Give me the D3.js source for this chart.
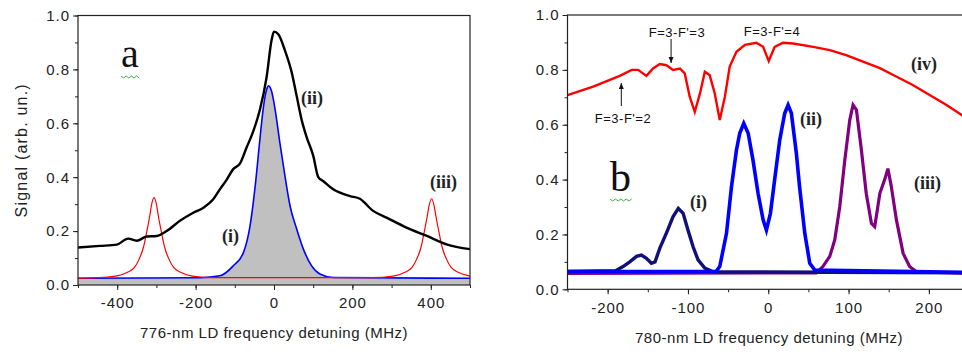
<!DOCTYPE html>
<html><head><meta charset="utf-8">
<script src="https://cdn.jsdelivr.net/npm/d3@7"></script>
<style>
html,body{margin:0;padding:0;background:#fff;}
svg{display:block;}
</style></head>
<body>
<script>
// ---------- Panel a data (776-nm LD detuning, MHz) ----------
const aTicksX = [-400, -200, 0, 200, 400];
const aTicksY = [0.0, 0.2, 0.4, 0.6, 0.8, 1.0];
const aBlackX = [-500,-444,-401,-372,-350,-325,-299,-274,-240,-206,-180,-155,-138,-121,-104,-87,-70,-53,-36,-19,-6,0,11,28,45,58,71,83,100,113,126,151,194,219,253,287,338,390,440,500];
const aBlackY = [0.139,0.145,0.15,0.172,0.164,0.18,0.182,0.20,0.238,0.268,0.287,0.318,0.355,0.39,0.43,0.45,0.51,0.57,0.65,0.77,0.91,0.94,0.93,0.87,0.79,0.70,0.61,0.55,0.48,0.40,0.385,0.355,0.33,0.32,0.275,0.25,0.213,0.182,0.151,0.133];
const aBlueX = [-500,-189,-138,-104,-78,-61,-48,-36,-27,-19,-14,-6,3,15,28,41,58,75,96,117,151,500];
const aBlueY = [0.025,0.027,0.034,0.071,0.12,0.22,0.367,0.54,0.66,0.724,0.739,0.718,0.65,0.527,0.404,0.293,0.207,0.133,0.071,0.041,0.028,0.025];
const aRedX = [-500,-456,-408,-374,-356,-344,-333,-325,-317,-313,-306,-299,-295,-287,-279,-268,-256,-238,-204,-156,252,300,334,352,364,375,383,391,395,402,409,413,421,429,440,452,470,500];
const aRedY = [0.025,0.027,0.032,0.047,0.065,0.096,0.14,0.195,0.256,0.293,0.324,0.293,0.256,0.195,0.14,0.096,0.065,0.047,0.032,0.027,0.027,0.032,0.047,0.065,0.096,0.14,0.195,0.256,0.29,0.32,0.29,0.256,0.195,0.14,0.096,0.065,0.047,0.033];

// ---------- Panel b data (780-nm LD detuning, MHz) ----------
const bTicksX = [-200, -100, 0, 100, 200];
const bTicksY = [0.0, 0.2, 0.4, 0.6, 0.8, 1.0];
const bRedX = [-250,-218,-185,-170,-162,-151.7,-143.5,-135,-126.8,-118.5,-110,-104,-97.8,-91.5,-85,-79,-73,-66.6,-60.4,-54,-48,-39.6,-29,-14.7,-6.4,0.6,8,18.4,31,56,76.6,97,118,139,160,180,201,222,240.5,250];
const bRedY = [0.708,0.739,0.778,0.80,0.80,0.778,0.805,0.821,0.817,0.80,0.805,0.787,0.702,0.647,0.714,0.793,0.781,0.714,0.617,0.702,0.812,0.866,0.891,0.899,0.884,0.832,0.884,0.899,0.896,0.884,0.872,0.854,0.83,0.806,0.775,0.745,0.708,0.672,0.636,0.615];
const bNavyX = [-250,-190,-180.8,-172.5,-164,-158,-151.7,-145.5,-141,-135,-127,-118.5,-112,-106,-100,-93.6,-87.4,-79,-68.7,250];
const bNavyY = [0.065,0.068,0.083,0.10,0.12,0.125,0.113,0.095,0.10,0.15,0.204,0.265,0.295,0.277,0.216,0.155,0.107,0.077,0.064,0.06];
const bBlueX = [-250,-65,-60.4,-52,-45.8,-39.6,-35.5,-30.5,-25,-19,-12.7,-6.4,-2.3,2.7,8,14.3,20.5,24.7,28.8,35,39,45.5,51.7,58,250];
const bBlueY = [0.065,0.065,0.083,0.204,0.374,0.508,0.569,0.605,0.569,0.471,0.35,0.253,0.216,0.277,0.40,0.544,0.642,0.672,0.642,0.496,0.374,0.204,0.095,0.07,0.062];
const bPurpleX = [-250,60,68,76.6,82.8,89,95.3,101.5,105.6,109.8,116,122,128.5,132.6,139,145,149,153.3,159.6,168,176,184.6,250];
const bPurpleY = [0.058,0.06,0.083,0.12,0.18,0.30,0.47,0.617,0.672,0.654,0.508,0.35,0.24,0.228,0.35,0.40,0.44,0.374,0.253,0.131,0.083,0.064,0.058];

const W = 962, H = 354;
const sans = "'Liberation Sans', Arial, sans-serif";
const svg = d3.select("body").append("svg").attr("width", W).attr("height", H)
  .style("font-family", sans);

const fmtX = d => String(d).replace("\u2212", "-");
const fmtY = d3.format(".1f");
const zip = (xs, ys) => xs.map((x, i) => [x, ys[i]]);

function drawAxes(g, x, y, ticksX, ticksY, minorX, minorY, xTitle, yTitle, padX) {
  const [x0, x1] = x.range();
  const [y0, y1] = y.range();
  g.append("g").attr("transform", `translate(0,${y0})`)
    .call(d3.axisBottom(x).tickValues(minorX).tickSize(3).tickFormat(""))
    .call(s => s.select(".domain").remove());
  g.append("g").attr("transform", `translate(${x0},0)`)
    .call(d3.axisLeft(y).tickValues(minorY).tickSize(3).tickFormat(""))
    .call(s => s.select(".domain").remove());
  const ax = g.append("g").attr("transform", `translate(0,${y0})`)
    .call(d3.axisBottom(x).tickValues(ticksX).tickSize(5).tickPadding(padX).tickFormat(fmtX));
  ax.select(".domain").remove();
  ax.selectAll("text").attr("font-size", 15).attr("letter-spacing", "1px").attr("fill", "#222")
    .attr("font-family", sans);
  const ay = g.append("g").attr("transform", `translate(${x0},0)`)
    .call(d3.axisLeft(y).tickValues(ticksY).tickSize(5).tickPadding(3).tickFormat(fmtY));
  ay.select(".domain").remove();
  ay.selectAll("text").attr("font-size", 15).attr("letter-spacing", "1px").attr("fill", "#222")
    .attr("font-family", sans);
  g.selectAll(".tick line").attr("stroke", "#222");
  g.append("rect").attr("x", x0).attr("y", y1).attr("width", x1 - x0).attr("height", y0 - y1)
    .attr("fill", "none").attr("stroke", "#222").attr("stroke-width", 1.2);
  g.append("text").attr("x", xTitle.cx).attr("y", xTitle.y)
    .attr("text-anchor", "middle").attr("font-size", 15).attr("letter-spacing", "0.5px").attr("fill", "#222")
    .text(xTitle.text);
  if (yTitle) {
    g.append("text").attr("transform", `translate(${yTitle.x},${(y0 + y1) / 2}) rotate(-90)`)
      .attr("text-anchor", "middle").attr("font-size", 16).attr("letter-spacing", "1.2px").attr("fill", "#222")
      .text(yTitle.text);
  }
}

// ================= Panel a =================
const xa = d3.scaleLinear().domain([-500, 500]).range([78, 470]);
const ya = d3.scaleLinear().domain([0, 1]).range([285, 15.5]);
const ga = svg.append("g");
ga.append("clipPath").attr("id", "clipA").append("rect")
  .attr("x", 78).attr("y", 15.5).attr("width", 392).attr("height", 269.5);
const pa = ga.append("g").attr("clip-path", "url(#clipA)");
const lineA = d3.line().x(d => xa(d[0])).y(d => ya(d[1])).curve(d3.curveMonotoneX);
const areaA = d3.area().x(d => xa(d[0])).y0(ya(0)).y1(d => ya(d[1])).curve(d3.curveMonotoneX);
const blueA = zip(aBlueX, aBlueY);
pa.append("path").attr("d", areaA(blueA)).attr("fill", "#c0c0c0");
pa.append("path").attr("d", lineA(blueA)).attr("fill", "none").attr("stroke", "#0000ff").attr("stroke-width", 1.6);
pa.append("path").attr("d", lineA(zip(aRedX, aRedY))).attr("fill", "none").attr("stroke", "#ff0000").attr("stroke-width", 1.2);
pa.append("path").attr("d", lineA(zip(aBlackX, aBlackY))).attr("fill", "none").attr("stroke", "#000").attr("stroke-width", 2.4);

drawAxes(ga, xa, ya, aTicksX, aTicksY, d3.range(-500, 501, 100), d3.range(0, 1.01, 0.1).map(v => +v.toFixed(1)),
  {text: "776-nm LD frequency detuning (MHz)", y: 338, cx: 274}, {text: "Signal (arb. un.)", x: 27}, 7);

const serif = "'Liberation Serif', 'Times New Roman', serif";
ga.append("text").attr("x", 121).attr("y", 67).attr("font-family", serif).attr("font-size", 40).attr("fill", "#111").text("a");
ga.append("path").attr("d", d3.range(0, 8).map(i => `${i ? "L" : "M"}${121 + i * 2.6},${i % 2 ? 78 : 76}`).join(""))
  .attr("fill", "none").attr("stroke", "#3cb04a").attr("stroke-width", 1);
const romanA = [["(ii)", 301, 104], ["(i)", 222, 242], ["(iii)", 430, 188]];
romanA.forEach(([t, x, y]) => ga.append("text").attr("x", x).attr("y", y).attr("font-family", serif)
  .attr("font-weight", "bold").attr("font-size", 18).attr("fill", "#222").text(t));

// ================= Panel b =================
const xb = d3.scaleLinear().domain([-250, 250]).range([567.5, 969]);
const yb = d3.scaleLinear().domain([0, 1]).range([289.3, 15]);
const gb = svg.append("g");
gb.append("clipPath").attr("id", "clipB").append("rect")
  .attr("x", 567.5).attr("y", 15).attr("width", 401.5).attr("height", 274.3);
const pb = gb.append("g").attr("clip-path", "url(#clipB)");
const lineB = d3.line().x(d => xb(d[0])).y(d => yb(d[1])).curve(d3.curveLinear);
pb.append("path").attr("d", lineB(zip(bPurpleX, bPurpleY))).attr("fill", "none").attr("stroke", "#800080").attr("stroke-width", 3.2);
pb.append("path").attr("d", lineB(zip(bNavyX, bNavyY))).attr("fill", "none").attr("stroke", "#10107a").attr("stroke-width", 3.4);
pb.append("path").attr("d", lineB(zip(bBlueX, bBlueY))).attr("fill", "none").attr("stroke", "#0000ff").attr("stroke-width", 3.6);
pb.append("path").attr("d", lineB(zip(bRedX, bRedY))).attr("fill", "none").attr("stroke", "#ff0000").attr("stroke-width", 2.4);

drawAxes(gb, xb, yb, bTicksX, bTicksY, d3.range(-250, 251, 50), d3.range(0, 1.01, 0.1).map(v => +v.toFixed(1)),
  {text: "780-nm LD frequency detuning (MHz)", y: 343, cx: 769}, null, 8);

gb.append("text").attr("x", 610).attr("y", 191).attr("font-family", serif).attr("font-size", 42).attr("fill", "#111").text("b");
gb.append("path").attr("d", d3.range(0, 9).map(i => `${i ? "L" : "M"}${610 + i * 2.7},${i % 2 ? 201 : 199}`).join(""))
  .attr("fill", "none").attr("stroke", "#3cb04a").attr("stroke-width", 1);
const romanB = [["(iv)", 911, 70], ["(ii)", 800, 125], ["(iii)", 914, 189], ["(i)", 690, 208]];
romanB.forEach(([t, x, y]) => gb.append("text").attr("x", x).attr("y", y).attr("font-family", serif)
  .attr("font-weight", "bold").attr("font-size", 18).attr("fill", "#222").text(t));

const ann = [["F=3-F'=3", 677, 37], ["F=3-F'=4", 772, 36], ["F=3-F'=2", 623, 123]];
ann.forEach(([t, x, y]) => gb.append("text").attr("x", x).attr("y", y).attr("text-anchor", "middle")
  .attr("font-size", 13).attr("letter-spacing", "0.5px").attr("fill", "#111").text(t));
function arrow(x, yFrom, yTo) {
  gb.append("line").attr("x1", x).attr("x2", x).attr("y1", yFrom).attr("y2", yTo).attr("stroke", "#111").attr("stroke-width", 1);
  const dir = yTo > yFrom ? 1 : -1;
  gb.append("path").attr("d", `M${x - 2.5},${yTo - dir * 6}L${x + 2.5},${yTo - dir * 6}L${x},${yTo}Z`).attr("fill", "#111");
}
arrow(xb(-121), 39, 63);
arrow(xb(-183), 106, 83);
</script>
</body></html>
